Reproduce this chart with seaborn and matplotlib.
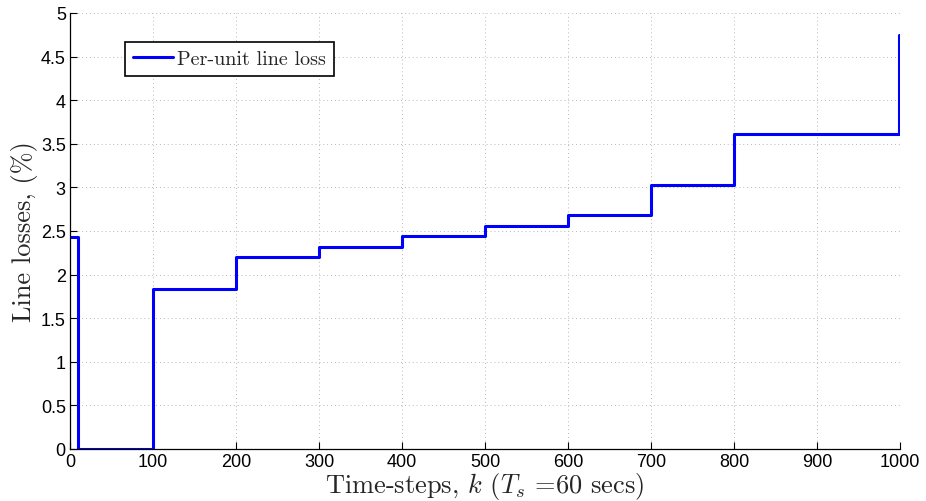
import matplotlib
matplotlib.use("Agg")
import matplotlib.pyplot as plt
import seaborn as sns
import pandas as pd

# Step levels (start time-step of each segment, value in %)
seg_start = [0, 10, 100, 200, 300, 400, 500, 600, 700, 800, 999]
seg_value = [2.43, 0.0, 1.84, 2.20, 2.32, 2.44, 2.56, 2.68, 3.03, 3.61, 4.75]
x_end = 1000

xs, ys = [], []
for i, (s, v) in enumerate(zip(seg_start, seg_value)):
    e = seg_start[i + 1] if i + 1 < len(seg_start) else x_end
    xs += [s, e]
    ys += [v, v]
df = pd.DataFrame({"k": xs, "loss": ys})

sns.set_style("ticks")
plt.rcParams["mathtext.fontset"] = "cm"
plt.rcParams["font.family"] = ["Liberation Sans", "DejaVu Sans"]

fig = plt.figure(figsize=(9.26, 5.02), dpi=100)
ax = fig.add_axes([70 / 926, 52 / 502, 830 / 926, 436 / 502])

sns.lineplot(data=df, x="k", y="loss", ax=ax, color="#0000ff", linewidth=2.2,
             sort=False, estimator=None, label="Per-unit line loss")

ax.set_xlim(0, 1000)
ax.set_ylim(0, 5)
ax.set_xticks(range(0, 1001, 100))
ax.set_yticks([0, 0.5, 1, 1.5, 2, 2.5, 3, 3.5, 4, 4.5, 5])
ax.set_yticklabels(["0", "0.5", "1", "1.5", "2", "2.5", "3", "3.5", "4", "4.5", "5"])
ax.tick_params(direction="in", length=5, width=0.8, labelsize=13, colors="black", pad=3)
ax.grid(True, color="#b8b8b8", linestyle=(0, (1, 3)), linewidth=0.7)
for side in ["top", "right"]:
    ax.spines[side].set_visible(False)
for side in ["left", "bottom"]:
    ax.spines[side].set_linewidth(0.9)
    ax.spines[side].set_color("black")

ax.set_xlabel(r"Time-steps, $k$ ($T_s$ =60 secs)", fontsize=19, family="cmr10", labelpad=0)
ax.set_ylabel("Line losses, (%)", fontsize=19, family="cmr10", labelpad=2)

leg = ax.legend(loc="upper left", bbox_to_anchor=(0.066, 0.934), prop={"family": "cmr10", "size": 14.5},
                frameon=True, fancybox=False, edgecolor="black", framealpha=1, handlelength=2.0,
                handletextpad=0.2, borderpad=0.4, borderaxespad=0)
leg.get_frame().set_linewidth(1.2)

fig.savefig("out.png", dpi=100)
